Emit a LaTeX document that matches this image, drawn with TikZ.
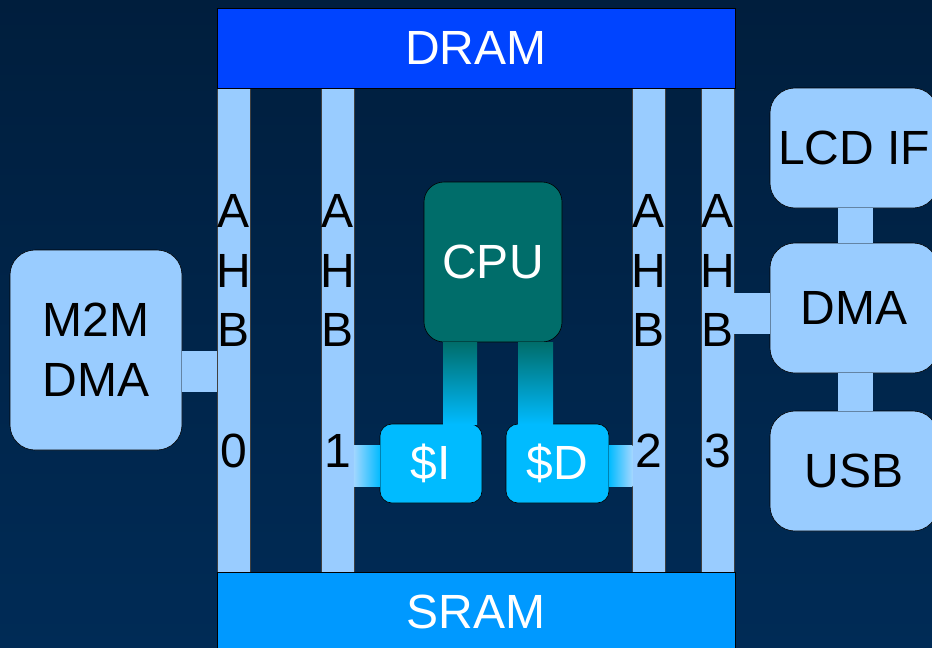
\documentclass[tikz,border=0pt]{standalone}
\usepackage{fontspec}
\setmainfont{Liberation Sans}
\usetikzlibrary{calc}
\definecolor{bgtop}{HTML}{001E3D}
\definecolor{bgbot}{HTML}{002B56}
\definecolor{dramcol}{HTML}{0044FF}
\definecolor{sramcol}{HTML}{0099FF}
\definecolor{buscol}{HTML}{99CCFF}
\definecolor{buspale}{HTML}{A2D6FF}
\definecolor{cpucol}{HTML}{006D6A}
\definecolor{cachecol}{HTML}{00BBFF}
\begin{document}
\begin{tikzpicture}[x=1pt,y=-1pt,
  bigfont/.style={font=\fontsize{48}{60}\selectfont},
  memory/.style={rectangle, draw=black, line width=0.6pt, inner sep=0pt, text=white, bigfont, minimum width=518pt, minimum height=80pt},
  bus/.style={rectangle, draw=black!75, line width=0.5pt, fill=buscol, inner sep=0pt, minimum width=33pt, minimum height=484pt},
  buslabel/.style={anchor=base, inner sep=0pt, text=black, bigfont},
  periph/.style={rectangle, rounded corners=25pt, draw=black, line width=0.6pt, fill=buscol, inner sep=0pt, text=black, bigfont, align=center},
  cpubox/.style={rectangle, rounded corners=20pt, draw=black, line width=0.6pt, fill=cpucol, inner sep=0pt, text=white, bigfont},
  cachebox/.style={rectangle, rounded corners=12pt, draw=black, line width=0.6pt, fill=cachecol, inner sep=0pt, text=white, bigfont, minimum height=79pt},
  link/.style={fill=buscol}
]
\clip (0,0) rectangle (932,648);
\shade[top color=bgtop, bottom color=bgbot] (0,0) rectangle (932,648);

% AHB buses
\node[bus] (bar0) at (233.5,330) {};
\node[bus] (bar1) at (337.5,330) {};
\node[bus] (bar2) at (648.5,330) {};
\node[bus] (bar3) at (717.5,330) {};

% memories
\node[memory, fill=dramcol] (dram) at (476,48) {DRAM};
\node[memory, fill=sramcol] (sram) at (476,612) {SRAM};

% bus labels
\foreach \n/\x/\d in {0/233.5/0, 1/337.5/1, 2/648.5/2, 3/717.5/3}{
  \node[buslabel] (a\n) at (\x,227) {A};
  \node[buslabel] (h\n) at (\x,287) {H};
  \node[buslabel] (b\n) at (\x,346) {B};
  \node[buslabel] (n\n) at (\x,467) {\d};
}

% blocks
\node[cpubox, minimum width=138pt, minimum height=160pt] (cpu) at (493,262) {CPU};
\node[cachebox, minimum width=102pt] (ci) at (431,463.5) {\$I};
\node[cachebox, minimum width=103pt] (cd) at (557.5,463.5) {\$D};
\node[periph, minimum width=172pt, minimum height=200pt] (m2m) at (96,350) {M2M\\DMA};
\node[periph, minimum width=168pt, minimum height=120pt] (lcd) at (854,148) {LCD IF};
\node[periph, minimum width=168pt, minimum height=130pt] (dma) at (854,308) {DMA};
\node[periph, minimum width=168pt, minimum height=120pt] (usb) at (854,471) {USB};

% connectors
\fill[link] ($(m2m.east |- 0,351)+(-0.5,0)$) rectangle ($(bar0.west |- 0,392)+(0.5,0)$);
\fill[link] ($(bar3.east |- 0,293)+(-0.5,0)$) rectangle ($(dma.west |- 0,334)+(0.5,0)$);
\fill[link] ($(838,0 |- lcd.south)+(0,-0.5)$) rectangle ($(873,0 |- dma.north)+(0,0.5)$);
\fill[link] ($(838,0 |- dma.south)+(0,-0.5)$) rectangle ($(873,0 |- usb.north)+(0,0.5)$);
\shade[top color=cpucol, bottom color=cachecol] ($(443,0 |- cpu.south)+(0,-0.3)$) rectangle ($(477,0 |- ci.north)+(0,0.5)$);
\shade[top color=cpucol, bottom color=cachecol] ($(518,0 |- cpu.south)+(0,-0.3)$) rectangle ($(553,0 |- cd.north)+(0,0.5)$);
\shade[left color=buspale, right color=cachecol] ($(bar1.east |- 0,445)+(-0.5,0)$) rectangle ($(ci.west |- 0,486)+(0.5,0)$);
\shade[left color=cachecol, right color=buspale] ($(cd.east |- 0,445)+(-0.5,0)$) rectangle ($(bar2.west |- 0,486)+(0.5,0)$);
\end{tikzpicture}
\end{document}
